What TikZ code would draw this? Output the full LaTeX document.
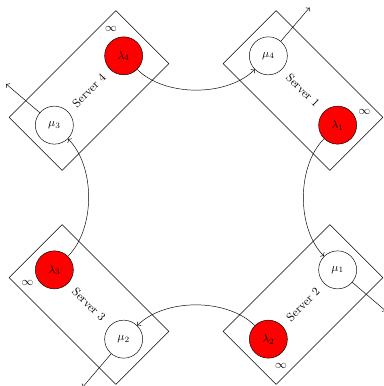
\documentclass[tikz,border=0pt]{standalone}
\usepackage{tikz}
\usetikzlibrary{positioning, arrows.meta, calc}
\usepackage{amsmath}
\usepackage{xcolor}

\begin{document}
\begin{tikzpicture}[
    serverbox/.style={draw, rectangle, minimum width=4.53cm, minimum height=2.25cm, inner sep=0pt},
    lamnode/.style={draw, circle, fill=red, minimum size=1.14cm, inner sep=0pt},
    munode/.style={draw, circle, fill=white, minimum size=1.14cm, inner sep=0pt},
    hop/.style={->, bend right=45, looseness=0.85}]
    \useasboundingbox (-5.88,-5.655) rectangle (5.61,5.925);

    % Server 4 (top left)
    \node[serverbox, rotate=45] (s4) at (-3.21,3.21) {Server 4};
    \begin{scope}[shift={(-3.21,3.21)}, rotate=45]
        \node[lamnode] (l4) at (1.47,0) {$\lambda_4$};
        \node[munode] (m3) at (-1.47,0) {$\mu_3$};
        \node (inf4) at (1.77,0.84) {$\infty$};
        \coordinate (o3) at (-1.62,1.9);
    \end{scope}

    % Server 1 (top right)
    \node[serverbox, rotate=-45] (s1) at (3.21,3.21) {Server 1};
    \begin{scope}[shift={(3.21,3.21)}, rotate=-45]
        \node[lamnode] (l1) at (1.47,0) {$\lambda_1$};
        \node[munode] (m4) at (-1.47,0) {$\mu_4$};
        \node (inf1) at (1.77,0.84) {$\infty$};
        \coordinate (o4) at (-1.62,1.9);
    \end{scope}

    % Server 2 (bottom right)
    \node[serverbox, rotate=45] (s2) at (3.21,-3.21) {Server 2};
    \begin{scope}[shift={(3.21,-3.21)}, rotate=225]
        \node[lamnode] (l2) at (1.47,0) {$\lambda_2$};
        \node[munode] (m1) at (-1.47,0) {$\mu_1$};
        \node (inf2) at (1.77,0.84) {$\infty$};
        \coordinate (o1) at (-1.62,1.9);
    \end{scope}

    % Server 3 (bottom left)
    \node[serverbox, rotate=-45] (s3) at (-3.21,-3.21) {Server 3};
    \begin{scope}[shift={(-3.21,-3.21)}, rotate=135]
        \node[lamnode] (l3) at (1.47,0) {$\lambda_3$};
        \node[munode] (m2) at (-1.47,0) {$\mu_2$};
        \node (inf3) at (1.77,0.84) {$\infty$};
        \coordinate (o2) at (-1.62,1.9);
    \end{scope}

    % arrivals to the next server
    \draw[hop] (l4) to (m4);
    \draw[hop] (l1) to (m1);
    \draw[hop] (l2) to (m2);
    \draw[hop] (l3) to (m3);

    % departures
    \draw[->] (m1) -- (o1);
    \draw[->] (m2) -- (o2);
    \draw[->] (m3) -- (o3);
    \draw[->] (m4) -- (o4);
\end{tikzpicture}
\end{document}
